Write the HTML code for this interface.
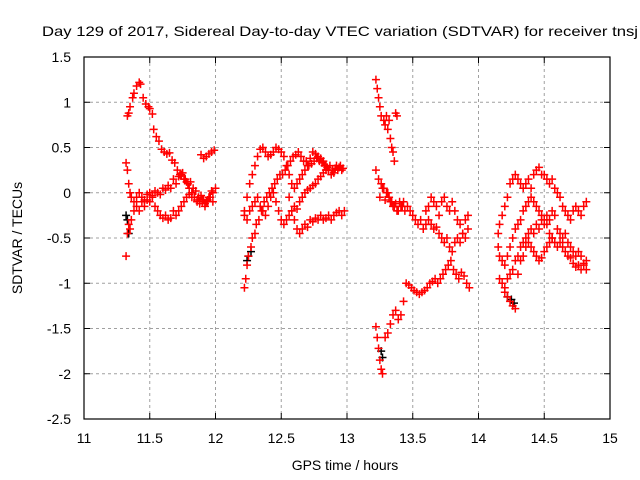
<!DOCTYPE html>
<html><head><meta charset="utf-8"><style>
body{margin:0;background:#fff}
svg{display:block;font-family:"Liberation Sans",sans-serif}
</style></head><body>
<svg id="chart" width="640" height="480" viewBox="0 0 640 480">
<text x="42" y="36" font-size="14" textLength="596" lengthAdjust="spacingAndGlyphs" fill="#000">Day 129 of 2017, Sidereal Day-to-day VTEC variation (SDTVAR) for receiver tnsj</text>
<text x="345" y="470" font-size="14" text-anchor="middle">GPS time / hours</text>
<text transform="translate(22,238) rotate(-90)" font-size="14" text-anchor="middle">SDTVAR / TECUs</text>
<g id="grid"></g><g id="ticks"></g><g id="marks"></g>
<rect x="84" y="57" width="526" height="362" fill="none" stroke="#000" stroke-width="1.2"/>
</svg>
<script>
const xTicks=[11,11.5,12,12.5,13,13.5,14,14.5,15];
const yTicks=[1.5,1,0.5,0,-0.5,-1,-1.5,-2,-2.5];
const xTickLabels=["11","11.5","12","12.5","13","13.5","14","14.5","15"];
const yTickLabels=["1.5","1","0.5","0","-0.5","-1","-1.5","-2","-2.5"];
// red series tracks (hours, TECU)
const t1x=[11.33,11.34,11.35,11.37,11.38,11.40,11.42,11.43,11.45,11.47,11.49,11.50,11.52,11.53,11.55,11.57,11.59,11.61,11.63,11.65,11.67,11.69,11.71,11.73,11.75,11.77,11.79,11.81,11.83,11.85,11.87,11.89,11.91,11.93,11.95,11.97];
const t1y=[0.85,0.88,0.95,1.05,1.1,1.18,1.22,1.2,1.05,0.98,0.95,0.93,0.87,0.7,0.62,0.57,0.48,0.45,0.43,0.44,0.36,0.33,0.25,0.2,0.22,0.15,0.1,0.12,0.05,0.02,-0.05,-0.03,-0.08,-0.1,-0.05,0.02];
const t2x=[11.32,11.33,11.34,11.35,11.36,11.38,11.40,11.42,11.44,11.46,11.48,11.50,11.52,11.54,11.56,11.58,11.60,11.62,11.64,11.66,11.68,11.70,11.72,11.74,11.76,11.78,11.80,11.82,11.84,11.86,11.88,11.90,11.92,11.94,11.96,11.98,12.0];
const t2y=[0.33,0.25,0.1,0.0,-0.05,-0.1,-0.05,0.0,-0.05,-0.08,-0.02,0.0,-0.03,0.02,0.0,-0.02,0.05,0.03,0.08,0.05,0.15,0.1,0.18,0.2,0.15,0.12,0.05,-0.05,-0.05,-0.1,-0.1,-0.08,-0.12,-0.1,-0.05,0.0,0.05];
const t3x=[11.32,11.33,11.34,11.35,11.36,11.38,11.40,11.42,11.44,11.46,11.48,11.50,11.52,11.54,11.56,11.58,11.60,11.62,11.64,11.66,11.68,11.70,11.72,11.74,11.76,11.78,11.80,11.82,11.84,11.86,11.88,11.90,11.92,11.94,11.96,11.98];
const t3y=[-0.7,-0.45,-0.35,-0.4,-0.3,-0.2,-0.15,-0.2,-0.1,-0.15,-0.08,-0.1,-0.05,-0.15,-0.2,-0.25,-0.28,-0.25,-0.3,-0.28,-0.2,-0.25,-0.2,-0.15,-0.1,-0.05,-0.02,0.0,-0.05,-0.08,-0.12,-0.1,-0.15,-0.08,-0.05,-0.1];
const t4x=[11.89,11.91,11.93,11.95,11.97,11.99];
const t4y=[0.42,0.38,0.4,0.43,0.45,0.47];
const t5x=[12.22,12.23,12.24,12.25,12.27,12.28,12.30,12.31,12.33,12.35,12.37,12.39,12.41,12.43,12.45,12.47,12.49,12.51,12.53,12.55,12.57,12.59,12.61,12.63,12.65,12.67,12.69,12.71,12.73,12.75,12.77,12.79,12.81,12.83,12.85,12.87,12.89,12.91,12.93,12.95,12.97];
const t5y=[-1.05,-0.95,-0.8,-0.7,-0.6,-0.5,-0.45,-0.35,-0.3,-0.2,-0.1,-0.05,0.0,0.05,0.1,0.15,0.2,0.2,0.25,0.3,0.35,0.4,0.42,0.45,0.4,0.35,0.35,0.3,0.32,0.35,0.38,0.35,0.33,0.3,0.28,0.3,0.25,0.27,0.25,0.3,0.27];
const t6x=[12.22,12.24,12.26,12.28,12.30,12.32,12.34,12.36,12.38,12.40,12.42,12.44,12.46,12.48,12.50,12.52,12.54,12.56,12.58,12.60,12.62,12.64,12.66,12.68,12.70,12.72,12.74,12.76,12.78,12.80,12.82,12.84,12.86,12.88,12.90,12.92,12.94,12.96];
const t6y=[-0.2,-0.05,0.1,0.2,0.3,0.4,0.48,0.5,0.45,0.4,0.42,0.45,0.5,0.48,0.45,0.4,0.3,0.2,0.1,0.05,0.1,0.15,0.2,0.25,0.3,0.38,0.45,0.43,0.4,0.38,0.35,0.3,0.25,0.2,0.22,0.3,0.28,0.25];
const t7x=[12.22,12.24,12.26,12.28,12.30,12.32,12.34,12.36,12.38,12.40,12.42,12.44,12.46,12.48,12.50,12.52,12.54,12.56,12.58,12.60,12.62,12.64,12.66,12.68,12.70,12.72,12.74,12.76,12.78,12.80,12.82,12.84];
const t7y=[-0.25,-0.3,-0.2,-0.15,-0.1,-0.05,-0.15,-0.2,-0.25,-0.15,-0.05,0.0,-0.1,-0.2,-0.3,-0.35,-0.3,-0.25,-0.2,-0.15,-0.18,-0.1,-0.05,0.0,0.03,0.05,0.08,0.1,0.15,0.18,0.22,0.25];
const t8x=[12.56,12.58,12.60,12.62,12.64,12.66,12.68,12.70,12.72,12.74,12.76,12.78,12.80,12.82,12.84,12.86,12.88,12.90,12.92,12.94,12.96,12.98];
const t8y=[-0.05,-0.2,-0.3,-0.4,-0.45,-0.4,-0.35,-0.38,-0.3,-0.32,-0.28,-0.3,-0.25,-0.3,-0.28,-0.25,-0.3,-0.25,-0.22,-0.2,-0.25,-0.2];
const t9x=[13.22,13.23,13.24,13.25,13.26,13.28,13.29,13.30,13.31,13.32,13.33,13.34,13.35,13.36,13.37,13.38];
const t9y=[1.25,1.15,1.05,0.95,0.85,0.8,0.75,0.85,0.7,0.8,0.6,0.5,0.45,0.35,0.88,0.85];
const t10x=[13.22,13.24,13.26,13.28,13.30,13.32,13.34,13.36,13.38,13.40,13.42,13.44,13.46,13.48,13.50,13.52,13.54,13.56,13.58,13.60,13.62,13.64,13.66,13.68,13.70,13.72,13.74,13.76,13.78,13.80,13.82,13.84,13.86,13.88,13.90,13.92];
const t10y=[0.25,0.15,0.1,0.05,0.0,-0.05,-0.1,-0.15,-0.2,-0.1,-0.15,-0.2,-0.15,-0.2,-0.25,-0.3,-0.35,-0.3,-0.4,-0.35,-0.3,-0.35,-0.4,-0.38,-0.45,-0.5,-0.55,-0.5,-0.6,-0.65,-0.55,-0.5,-0.55,-0.45,-0.5,-0.4];
const t11x=[13.25,13.27,13.29,13.31,13.33,13.35,13.37,13.39,13.41,13.43,13.60,13.62,13.64,13.66,13.68,13.70,13.72,13.74,13.76,13.78,13.80,13.82,13.84,13.86,13.88,13.90,13.92];
const t11y=[-0.05,0.05,-0.08,0.0,-0.1,-0.15,-0.12,-0.2,-0.15,-0.1,-0.2,-0.15,-0.05,-0.1,-0.15,-0.25,-0.1,-0.05,-0.15,-0.2,-0.1,-0.2,-0.3,-0.35,-0.45,-0.3,-0.25];
const t12x=[13.22,13.23,13.24,13.25,13.26,13.27,13.29,13.31,13.33,13.35,13.37,13.39,13.41,13.43,13.45,13.47,13.49,13.51,13.53,13.55,13.57,13.59,13.61,13.63,13.65,13.67,13.69,13.71,13.73,13.75,13.77,13.79,13.81,13.83,13.85,13.87,13.89,13.91,13.93];
const t12y=[-1.48,-1.6,-1.72,-1.85,-1.95,-2.0,-1.6,-1.55,-1.45,-1.35,-1.3,-1.4,-1.35,-1.2,-1.0,-1.02,-1.05,-1.08,-1.1,-1.12,-1.1,-1.08,-1.05,-1.0,-0.98,-0.95,-1.0,-0.95,-0.9,-0.85,-0.8,-0.75,-0.85,-0.9,-0.95,-0.88,-0.92,-1.0,-1.05];
const t13x=[14.15,14.16,14.18,14.20,14.22,14.24,14.26,14.28,14.30,14.32,14.34,14.36,14.38,14.40,14.42,14.44,14.46,14.48,14.50,14.52,14.54,14.56,14.58,14.60,14.62,14.64,14.66,14.68,14.70,14.72,14.74,14.76,14.78,14.80,14.82];
const t13y=[-0.45,-0.35,-0.25,-0.15,-0.05,0.1,0.15,0.2,0.15,0.1,0.05,0.1,0.15,0.05,0.2,0.25,0.28,0.2,0.2,0.15,0.1,0.15,0.05,0.0,-0.05,-0.15,-0.2,-0.25,-0.3,-0.2,-0.15,-0.2,-0.25,-0.15,-0.1];
const t14x=[14.15,14.16,14.18,14.20,14.22,14.24,14.26,14.28,14.30,14.32,14.34,14.36,14.38,14.40,14.42,14.44,14.46,14.48,14.50,14.52,14.54,14.56,14.58,14.60,14.62,14.64,14.66,14.68,14.70,14.72,14.74,14.76,14.78,14.80,14.82];
const t14y=[-0.6,-0.7,-0.75,-0.8,-0.7,-0.6,-0.5,-0.4,-0.35,-0.3,-0.2,-0.15,-0.1,-0.05,-0.1,-0.15,-0.2,-0.25,-0.3,-0.35,-0.45,-0.5,-0.55,-0.6,-0.55,-0.6,-0.65,-0.7,-0.72,-0.78,-0.82,-0.8,-0.85,-0.8,-0.75];
const t15x=[14.16,14.18,14.20,14.22,14.24,14.26,14.28,14.30,14.32,14.34,14.36,14.38,14.40,14.42,14.44,14.46,14.48,14.50,14.52,14.54,14.56,14.58,14.60,14.62,14.64,14.66,14.68,14.70,14.72,14.74,14.76,14.78,14.80,14.82];
const t15y=[-0.95,-1.0,-1.05,-0.95,-0.9,-0.85,-0.75,-0.7,-0.6,-0.55,-0.5,-0.45,-0.4,-0.45,-0.35,-0.4,-0.3,-0.35,-0.25,-0.3,-0.2,-0.25,-0.4,-0.45,-0.5,-0.45,-0.55,-0.6,-0.65,-0.7,-0.65,-0.7,-0.78,-0.85];
const t16x=[14.2,14.22,14.24,14.26,14.28,14.30,14.32,14.34,14.36,14.38,14.40,14.42,14.44,14.46,14.48,14.50,14.52,14.54,14.56];
const t16y=[-1.1,-1.15,-1.2,-1.25,-1.28,-0.9,-0.75,-0.7,-0.6,-0.55,-0.6,-0.65,-0.7,-0.75,-0.72,-0.65,-0.6,-0.55,-0.5];
const blackX=[11.32,11.33,11.34,12.24,12.25,12.27,13.26,13.27,14.22,14.25,14.27];
const blackY=[-0.25,-0.3,-0.45,-0.75,-0.7,-0.65,-1.75,-1.82,-1.15,-1.18,-1.22];
const redX=[t1x,t2x,t3x,t4x,t5x,t6x,t7x,t8x,t9x,t10x,t11x,t12x,t13x,t14x,t15x,t16x];
const redY=[t1y,t2y,t3y,t4y,t5y,t6y,t7y,t8y,t9y,t10y,t11y,t12y,t13y,t14y,t15y,t16y];

const X0=84,X1=610,Y0=57,Y1=419;
function sx(v){return X0+(v-11)/4*(X1-X0);}
function sy(v){return Y0+(1.5-v)/4*(Y1-Y0);}
const NS="http://www.w3.org/2000/svg";
function mk(tag,attrs,parent){const e=document.createElementNS(NS,tag);for(const k in attrs)e.setAttribute(k,attrs[k]);parent.appendChild(e);return e;}
const grid=document.getElementById('grid'),ticks=document.getElementById('ticks'),marks=document.getElementById('marks');
xTicks.forEach((t,i)=>{
  const x=sx(t);
  if(i>0&&i<xTicks.length-1){const g=mk('line',{x1:x,x2:x,y1:Y0,y2:Y1,stroke:'#a0a0a0','stroke-dasharray':'3,3'},grid);
  
  }
  mk('line',{x1:x,x2:x,y1:Y1,y2:Y1-6,stroke:'#000'},ticks);
  mk('line',{x1:x,x2:x,y1:Y0,y2:Y0+6,stroke:'#000'},ticks);
  const l=mk('text',{x:x,y:443,'font-size':14,'text-anchor':'middle'},ticks);
  l.textContent=xTickLabels[i];
  
  
});
yTicks.forEach((t,i)=>{
  const y=sy(t);
  if(i>0&&i<yTicks.length-1){const g=mk('line',{x1:X0,x2:X1,y1:y,y2:y,stroke:'#a0a0a0','stroke-dasharray':'3,3'},grid);
  
  }
  mk('line',{x1:X0,x2:X0+6,y1:y,y2:y,stroke:'#000'},ticks);
  mk('line',{x1:X1,x2:X1-6,y1:y,y2:y,stroke:'#000'},ticks);
  const l=mk('text',{x:71,y:y+5,'font-size':14,'text-anchor':'end'},ticks);
  l.textContent=yTickLabels[i];
  
  
});
function cross(x,y,c){
  const px=sx(x),py=sy(y);
  const p=mk('path',{d:`M${px-4},${py}H${px+4}M${px},${py-4}V${py+4}`,stroke:c,'stroke-width':1.5,fill:'none'},marks);
  return p;
}
blackX.forEach((x,i)=>{
  const p=cross(x,blackY[i],'#000');
  
  
});
redX.forEach((xs,k)=>{
  xs.forEach((x,i)=>{
    const p=cross(x,redY[k][i],'#ff0000');
    
    
  });
});
</script>
</body></html>
